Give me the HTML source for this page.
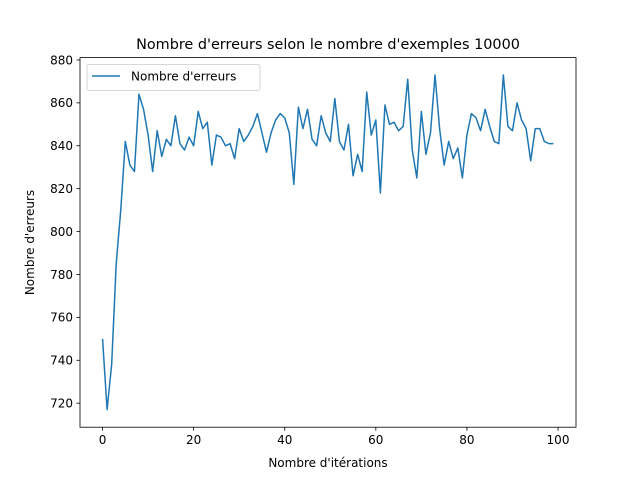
<!DOCTYPE html>
<html><head><meta charset="utf-8"><style>
body{margin:0;background:#fff;}
svg{display:block;font-family:"DejaVu Sans","Liberation Sans",sans-serif;}
</style></head><body>
<svg id="chart" width="640" height="480">
<rect width="640" height="480" fill="#fff"/>
<text x="328" y="49" font-size="14.4" text-anchor="middle">Nombre d'erreurs selon le nombre d'exemples 10000</text>
<text x="328" y="467" font-size="12" text-anchor="middle">Nombre d'itérations</text>
<text transform="translate(34,242.5) rotate(-90)" font-size="12" text-anchor="middle">Nombre d'erreurs</text>
<g id="xt"></g><g id="yt"></g>
<path id="line" fill="none" stroke="#1f77b4" stroke-width="1.5" stroke-linejoin="round"/>
<rect x="80" y="57.6" width="496" height="369.6" fill="none" stroke="#000" stroke-width="0.8"/>
<g>
<rect x="87" y="64.5" width="173" height="26" rx="2" fill="#fff" fill-opacity="0.8" stroke="#ccc" stroke-width="0.8"/>
<line x1="92" y1="76" x2="120" y2="76" stroke="#1f77b4" stroke-width="1.5"/>
<text x="131" y="80.5" font-size="12">Nombre d'erreurs</text>
</g>
</svg>
<script>
const values=[750,717,738,785,810,842,831,828,864,857,845,828,847,835,843,840,854,841,838,844,840,856,848,851,831,845,844,840,841,834,848,842,845,849,855,846,837,846,852,855,853,846,822,858,848,857,843,840,854,846,842,862,842,838,850,826,836,828,865,845,852,818,859,850,851,847,849,871,838,825,856,836,846,873,848,831,842,834,839,825,845,855,853,847,857,849,842,841,873,849,847,860,852,848,833,848,848,842,841,841];
const xTicks=[0,20,40,60,80,100];
const yTicks=[720,740,760,780,800,820,840,860,880];
const L=80,R=576,T=57.6,B=427.2;
const xmin=-4.95,xmax=103.95,ymin=708.8,ymax=881.1;
const xs=v=>L+(v-xmin)/(xmax-xmin)*(R-L);
const ys=v=>B-(v-ymin)/(ymax-ymin)*(B-T);
const NS="http://www.w3.org/2000/svg";
const xt=document.getElementById('xt'),yt=document.getElementById('yt');
xTicks.forEach(t=>{
 const x=xs(t);
 const l=document.createElementNS(NS,'line');
 l.setAttribute('x1',x);l.setAttribute('x2',x);l.setAttribute('y1',B);l.setAttribute('y2',B+3.5);l.setAttribute('stroke','#000');l.setAttribute('stroke-width','0.8');
 
 
 xt.appendChild(l);
 const s=document.createElementNS(NS,'text');
 s.setAttribute('x',x);s.setAttribute('y',B+17);s.setAttribute('font-size','12');s.setAttribute('text-anchor','middle');s.textContent=t;
 
 
 xt.appendChild(s);
});
yTicks.forEach(t=>{
 const y=ys(t);
 const l=document.createElementNS(NS,'line');
 l.setAttribute('x1',L-3.5);l.setAttribute('x2',L);l.setAttribute('y1',y);l.setAttribute('y2',y);l.setAttribute('stroke','#000');l.setAttribute('stroke-width','0.8');
 
 
 yt.appendChild(l);
 const s=document.createElementNS(NS,'text');
 s.setAttribute('x',L-7);s.setAttribute('y',y+4.3);s.setAttribute('font-size','12');s.setAttribute('text-anchor','end');s.textContent=t;
 
 
 yt.appendChild(s);
});
document.getElementById('line').setAttribute('d',values.map((v,i)=>(i?'L':'M')+xs(i).toFixed(2)+','+ys(v).toFixed(2)).join(''));
</script>
</body></html>
